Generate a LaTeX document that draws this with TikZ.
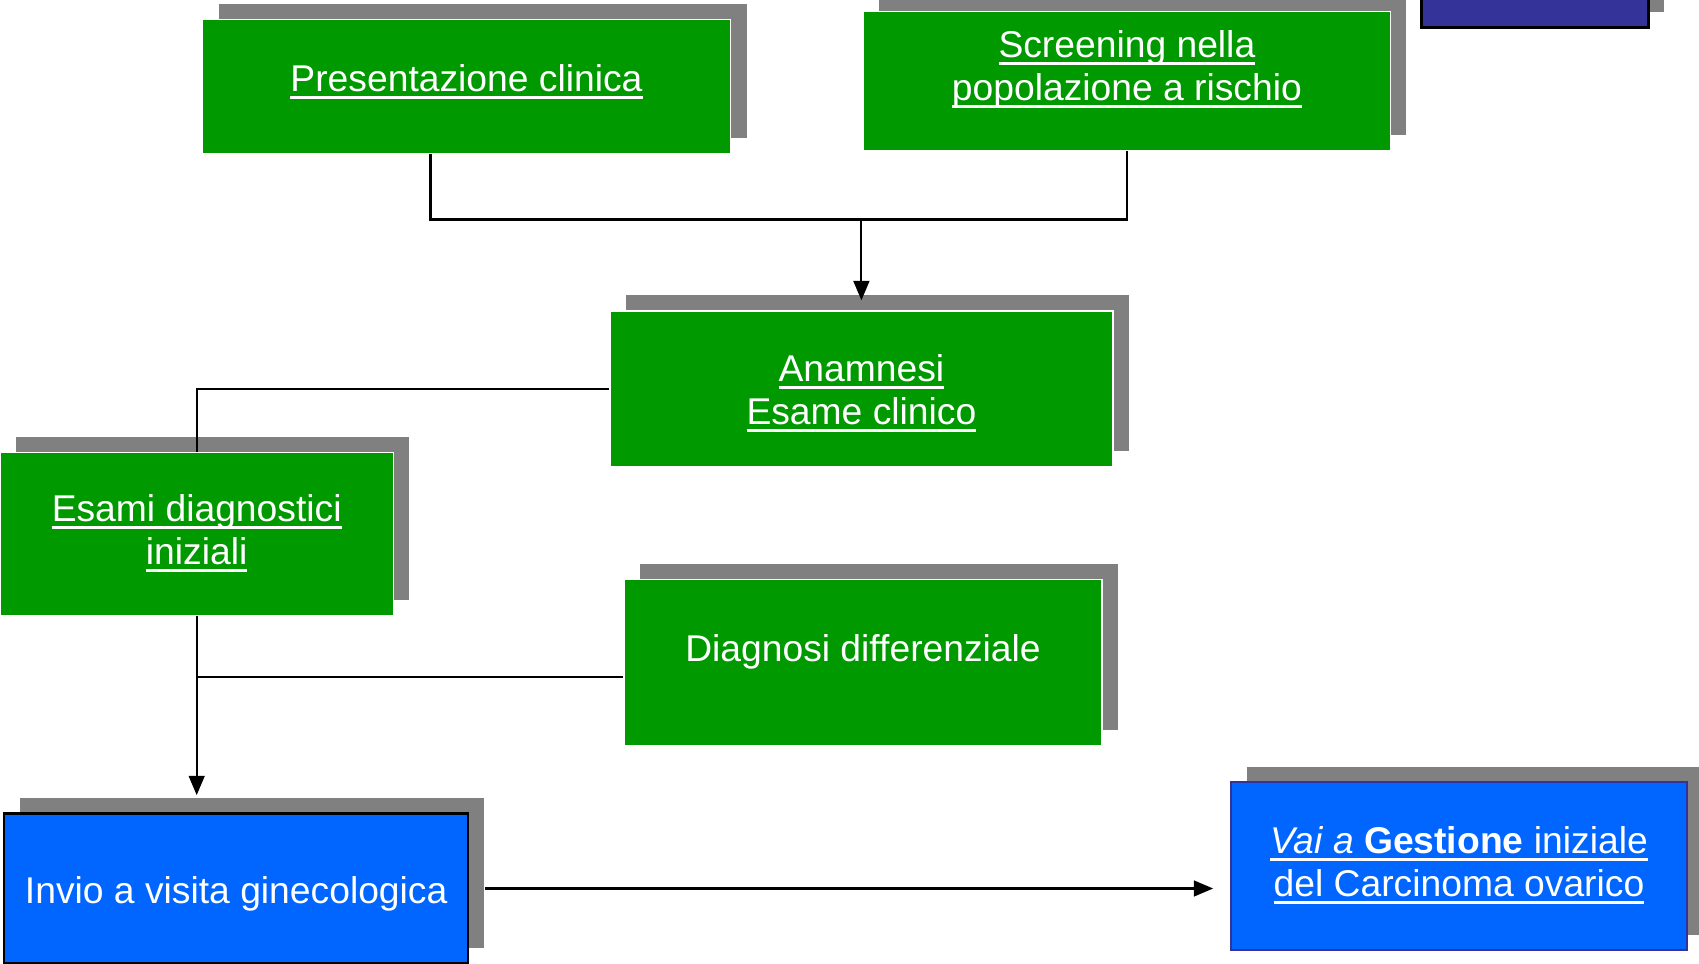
\documentclass[tikz,border=0pt]{standalone}
\usepackage{fontspec}
\setmainfont{Liberation Sans}
\usetikzlibrary{arrows.meta,shadows,positioning,calc}
\usepackage{xcolor}
\definecolor{boxgreen}{RGB}{0,153,0}
\definecolor{boxblue}{RGB}{0,102,255}
\definecolor{boxdark}{RGB}{51,51,153}
\definecolor{shadowgray}{RGB}{128,128,128}
\newsavebox{\undlbox}
\newcommand{\undl}[1]{\sbox{\undlbox}{#1}\makebox[0pt][l]{\rule[-2.2pt]{\wd\undlbox}{0.8pt}}\usebox{\undlbox}}
\newcommand{\liftup}[2]{\raisebox{#1}[\height][\depth]{\begin{tabular}{@{}c@{}}#2\end{tabular}}}

\begin{document}
\begin{tikzpicture}[x=0.1mm, y=-0.1mm,
    chartbox/.style={rectangle, inner sep=0pt, text=white, font=\fontsize{10.6}{12.2}\selectfont,
      drop shadow={shadow xshift=1.6mm, shadow yshift=1.55mm, fill=shadowgray, opacity=1}},
    greenbox/.style={chartbox, fill=boxgreen, draw=white, line width=0.4pt},
    bluebox/.style={chartbox, fill=boxblue},
    flow/.style={line width=0.6pt},
    flowarrow/.style={flow, -{Triangle[width=4.5pt,length=5.5pt]}}]
    \useasboundingbox (0,0) rectangle (1699,964);

    % Nodes
    \node[greenbox, minimum width=5.28cm, minimum height=1.34cm] (pres) at (466.5,86.7)
        {\liftup{0.04cm}{\undl{Presentazione clinica}}};
    \node[greenbox, minimum width=5.27cm, minimum height=1.39cm] (scr) at (1126.9,81.3)
        {\liftup{0.11cm}{\undl{Screening nella}\\ \undl{popolazione a rischio}}};
    \node[chartbox, fill=boxdark, draw=black, line width=0.8pt, minimum width=2.27cm,
        minimum height=1cm, anchor=south west] (topbox) at (1420,29.3) {};
    \node[greenbox, minimum width=5.03cm, minimum height=1.56cm] (anam) at (861.4,389)
        {\liftup{-0.05cm}{\undl{Anamnesi}\\ \undl{Esame clinico}}};
    \node[greenbox, minimum width=3.93cm, minimum height=1.63cm] (esami) at (196.7,534.2)
        {\liftup{0cm}{\undl{Esami diagnostici}\\ \undl{iniziali}}};
    \node[greenbox, minimum width=4.78cm, minimum height=1.66cm] (diag) at (863,662.6)
        {\liftup{0.1cm}{Diagnosi differenziale}};
    \node[bluebox, draw=black, line width=0.6pt, minimum width=4.64cm, minimum height=1.5cm] (invio) at (236.2,888.5)
        {\liftup{-0.06cm}{Invio a visita ginecologica}};
    \node[bluebox, draw=boxdark, line width=0.5pt, minimum width=4.56cm, minimum height=1.68cm] (vai) at (1459,866.3)
        {\liftup{0cm}{\undl{\textit{Vai a} \textbf{Gestione} iniziale}\\ \undl{del Carcinoma ovarico}}};

    % Connectors
    \coordinate (join) at (861.4,219.5);
    \draw[flow] ([xshift=-3.6mm]pres.south) |- (join);
    \draw[flow] (scr.south) |- (join);
    \draw[flowarrow] (join) -- ([yshift=1mm]anam.north);

    \draw[flow] (anam.west) -| (esami.north);
    \draw[flowarrow] (esami.south) -- ($(invio.north -| esami.south)+(0,-17.3)$);

    \coordinate (diagout) at ($(diag.west)+(0,14.6)$);
    \draw[flow] (diagout) -- (diagout -| esami.south);

    \draw[flowarrow] ($(invio.east)+(16,0)$) -- ($(vai.west |- invio.east)+(-17,0)$);
\end{tikzpicture}
\end{document}
